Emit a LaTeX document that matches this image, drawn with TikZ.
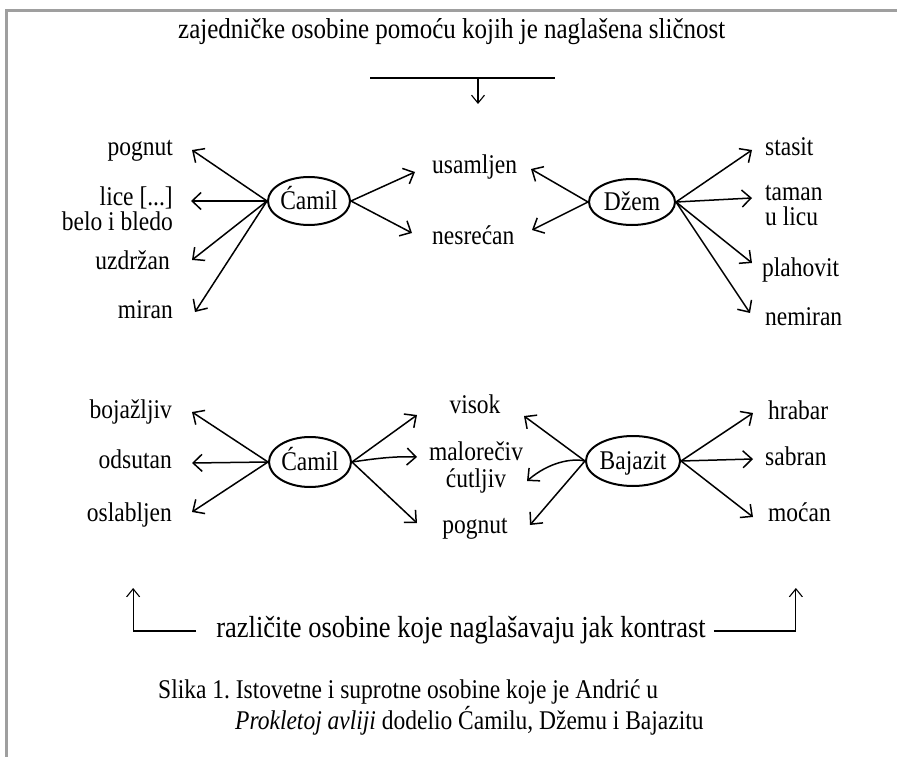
\documentclass[tikz,border=0pt]{standalone}
\usepackage{fontspec}
\setmainfont{Liberation Serif}
\usetikzlibrary{arrows.meta,shapes.geometric}
\newcommand{\tl}[1]{\scalebox{1}[1.15]{#1}}
\begin{document}
\frenchspacing
\begin{tikzpicture}[x=1pt,y=-1pt,
  lbl/.style={font=\fontsize{23.5}{20}\selectfont, inner sep=0pt, text height=15pt, text depth=3pt},
  lblm/.style={font=\fontsize{23.5}{23}\selectfont, inner sep=0pt},
  lbltwo/.style={font=\fontsize{23.5}{25}\selectfont, inner sep=0pt},
  ell/.style={ellipse, draw, line width=2pt, minimum width=82pt, minimum height=48pt, inner sep=0pt,
              font=\fontsize{23.5}{24}\selectfont, text height=18pt, text depth=0.2pt},
  arr/.style={line width=1.5pt, -{Straight Barb[length=9pt,width=17pt,line width=1.5pt]}},
  thinarr/.style={line width=1.1pt, -{Straight Barb[length=8pt,width=13pt,line width=1.1pt]}},
]
\useasboundingbox (0,0) rectangle (897,757);
% frame
\draw[gray!75, line width=3pt] (6,757) -- (6,11) -- (897,11);

% title
\node[lbl, font=\fontsize{25}{26}\selectfont, anchor=west] (title) at (178,33) {\tl{zajedničke osobine pomoću kojih je naglašena sličnost}};
\coordinate (hl) at (370,78);
\coordinate (hr) at (555,78);
\coordinate (hm) at (478,78);
\coordinate (hd) at (478,104);
\draw[line width=2.4pt] (hl) -- (hr);
\draw[thinarr] (hm) -- (hd);

% ---------- upper part ----------
\node[ell] (c1) at (309,201) {\tl{Ćamil}};
\node[lbl, anchor=east] (pognutA) at (173,150) {\tl{pognut}};
\node[lbltwo, anchor=east, align=right] (lice) at (173,209) {\tl{lice [...]}\\\tl{belo i bledo}};
\node[lbl, anchor=east] (uzdrzan) at (170,263) {\tl{uzdržan}};
\node[lbl, anchor=east] (miran) at (173,312) {\tl{miran}};
\draw[arr] (c1.west) -- ([shift={(19,0)}]pognutA.east);
\draw[arr] (c1.west) -- ([shift={(18,-8)}]lice.east);
\draw[arr] (c1.west) -- ([shift={(22,-3)}]uzdrzan.east);
\draw[arr] (c1.west) -- ([shift={(22,0)}]miran.east);

\node[lbl, anchor=west] (usamljen) at (432,167) {\tl{usamljen}};
\node[lbl, anchor=west] (nesrecan) at (432,238) {\tl{nesrećan}};
\draw[arr] (c1.east) -- ([shift={(-17,5)}]usamljen.west);
\draw[arr] (c1.east) -- ([shift={(-20,-5)}]nesrecan.west);

\node[ell, minimum width=86pt, minimum height=46pt] (dz) at (632,202) {\tl{Džem}};
\draw[arr] (dz.west) -- ([shift={(99,2)}]usamljen.west);
\draw[arr] (dz.west) -- ([shift={(100,-8)}]nesrecan.west);

\node[lbl, anchor=west] (stasit) at (765,150) {\tl{stasit}};
\node[lbltwo, anchor=west, align=left] (taman) at (765,206) {\tl{taman}\\\tl{u licu}};
\node[lbl, anchor=west] (plahovit) at (762,270) {\tl{plahovit}};
\node[lbl, anchor=west] (nemiran) at (765,319) {\tl{nemiran}};
\draw[arr] (dz.east) -- ([shift={(-13,0)}]stasit.west);
\draw[arr] (dz.east) -- ([shift={(-13,-8)}]taman.west);
\draw[arr] (dz.east) -- ([shift={(-10,-7)}]plahovit.west);
\draw[arr] (dz.east) -- ([shift={(-15,-6)}]nemiran.west);

% ---------- lower part ----------
\node[ell, minimum height=50pt] (c2) at (310,462) {\tl{Ćamil}};
\node[lbl, anchor=east] (bojazljiv) at (172,412) {\tl{bojažljiv}};
\node[lbl, anchor=east] (odsutan) at (172,462) {\tl{odsutan}};
\node[lbl, anchor=east] (oslabljen) at (172,515) {\tl{oslabljen}};
\draw[arr] (c2.west) -- ([shift={(20,0)}]bojazljiv.east);
\draw[arr] (c2.west) -- ([shift={(20,1)}]odsutan.east);
\draw[arr] (c2.west) -- ([shift={(20,-3)}]oslabljen.east);

\node[lbl] (visok) at (475,407) {\tl{visok}};
\node[font=\fontsize{23.5}{27}\selectfont, inner sep=0pt, align=center] (malo) at (476,467) {\tl{malorečiv}\\\tl{ćutljiv}};
\node[lbl] (pognutB) at (475,527) {\tl{pognut}};
\draw[arr] (c2.east) -- ([shift={(-58,8)}]visok.center);
\draw[arr] (c2.east) .. controls (372,459) and (394,456) .. ([shift={(-59,-10)}]malo.center);
\draw[arr] (c2.east) -- ([shift={(-58,-4)}]pognutB.center);

\node[ell, minimum height=50pt] (bj) at (633,461) {\tl{Bajazit}};
\draw[arr] (bj.west) -- ([shift={(49,9)}]visok.center);
\draw[arr] (bj.west) .. controls (572,458) and (549,462) .. ([shift={(51,14)}]malo.center);
\draw[arr] (bj.west) -- ([shift={(55,-2)}]pognutB.center);

\node[lbl, anchor=west] (hrabar) at (768,413) {\tl{hrabar}};
\node[lbl, anchor=west] (sabran) at (765,459) {\tl{sabran}};
\node[lbl, anchor=west] (mocan) at (768,515) {\tl{moćan}};
\draw[arr] (bj.east) -- ([shift={(-15,0)}]hrabar.west);
\draw[arr] (bj.east) -- ([shift={(-12,0)}]sabran.west);
\draw[arr] (bj.east) -- ([shift={(-15,2)}]mocan.west);

% ---------- bottom ----------
\node[lbl, font=\fontsize{26.5}{27}\selectfont] (diff) at (461,631) {\tl{različite osobine koje naglašavaju jak kontrast}};
\draw[thinarr] ([xshift=-20pt]diff.west) -- ++(-63,0) -- ++(0,-43);
\draw[thinarr] ([xshift=8pt]diff.east) -- ++(82,0) -- ++(0,-43);

% caption
\node[lblm, anchor=west] (cap1) at (158,692) {\tl{Slika 1. Istovetne i suprotne osobine koje je Andrić u}};
\node[lblm, anchor=west] (cap2) at (235,721) {\tl{\textit{Prokletoj avliji} dodelio Ćamilu, Džemu i Bajazitu}};
\end{tikzpicture}
\end{document}
